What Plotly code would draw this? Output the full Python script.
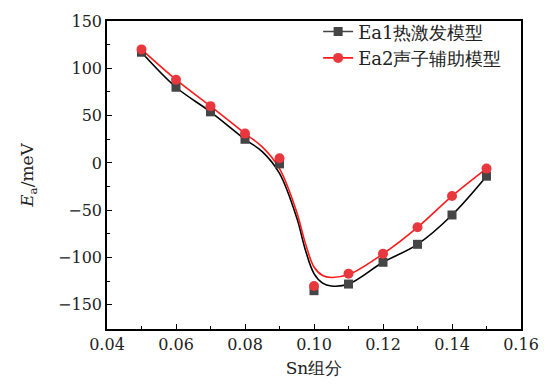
import plotly.graph_objects as go

# Sn composition and measured activation energies (meV)
sn = [0.05, 0.06, 0.07, 0.08, 0.09, 0.10, 0.11, 0.12, 0.13, 0.14, 0.15]
ea1 = [117, 80, 54, 25, -1, -135, -128, -105, -86, -55, -14]
ea2 = [120, 88, 60, 31, 5, -130, -117, -96, -68, -35, -6]

# Smooth fitted curves, sampled along the composition axis
fit_x = [0.05, 0.06, 0.07, 0.08, 0.085, 0.09, 0.095, 0.0975, 0.10, 0.1025,
         0.105, 0.11, 0.12, 0.13, 0.14, 0.15]
fit_ea1 = [117, 80, 54, 25, 12, -11, -58, -92, -117, -127, -130, -128, -105, -86, -55, -14]
fit_ea2 = [120, 88, 60, 31, 17, -6, -52, -85, -110, -119, -121, -118, -96, -68, -35, -6]

names = ["Ea1热激发模型", "Ea2声子辅助模型"]

black = "#000000"
dark = "#454545"
red = "#ff1a1a"
red_mk = "#e8383d"

FONT = "DejaVu Serif"
TXT = "#222222"

fig = go.Figure()

fig.add_trace(go.Scatter(x=fit_x, y=fit_ea1, mode="lines", line=dict(color=black, width=1.6, shape="spline", smoothing=1.0), showlegend=False, hoverinfo="skip"))
fig.add_trace(go.Scatter(x=fit_x, y=fit_ea2, mode="lines", line=dict(color=red, width=1.6, shape="spline", smoothing=1.0), showlegend=False, hoverinfo="skip"))

fig.add_trace(go.Scatter(x=sn, y=ea1, mode="markers", marker=dict(symbol="square", size=9, color=dark), showlegend=False))
fig.add_trace(go.Scatter(x=sn, y=ea2, mode="markers", marker=dict(symbol="circle", size=10, color=red_mk), showlegend=False))

# legend entries (line + marker)
fig.add_trace(go.Scatter(x=[None], y=[None], mode="lines+markers", name=names[0],
                         line=dict(color=dark, width=1.6), marker=dict(symbol="square", size=9, color=dark)))
fig.add_trace(go.Scatter(x=[None], y=[None], mode="lines+markers", name=names[1],
                         line=dict(color=red, width=1.6), marker=dict(symbol="circle", size=10, color=red_mk)))

axis_common = dict(showline=True, linecolor="black", linewidth=1.5, mirror=True,
                   ticks="inside", ticklen=5, tickwidth=1, tickcolor="black",
                   showgrid=False, zeroline=False,
                   tickfont=dict(family=FONT, size=16, color=TXT))

fig.update_xaxes(range=[0.04, 0.16], dtick=0.02, tick0=0.04, tickformat=".2f",
                 minor=dict(dtick=0.01, ticks="inside", ticklen=3, tickcolor="black"),
                 title=dict(text="Sn组分", font=dict(family=FONT, size=17, color=TXT), standoff=9),
                 **axis_common)
fig.update_yaxes(range=[-175.5, 150], dtick=50, tick0=0,
                 minor=dict(dtick=25, ticks="inside", ticklen=3, tickcolor="black"),
                 title=dict(text="<i>E</i><sub>a</sub>/meV", font=dict(family=FONT, size=17, color=TXT), standoff=20),
                 **axis_common)

fig.update_layout(
    width=551, height=387,
    font=dict(family=FONT, size=16, color=TXT),
    margin=dict(l=107, r=29, t=16, b=54),
    plot_bgcolor="white", paper_bgcolor="white",
    legend=dict(x=0.51, y=1.025, xanchor="left", yanchor="top", bgcolor="rgba(0,0,0,0)",
                font=dict(family=FONT, size=18, color=TXT), tracegroupgap=0, itemwidth=30),
)

fig.write_html("out.html")
